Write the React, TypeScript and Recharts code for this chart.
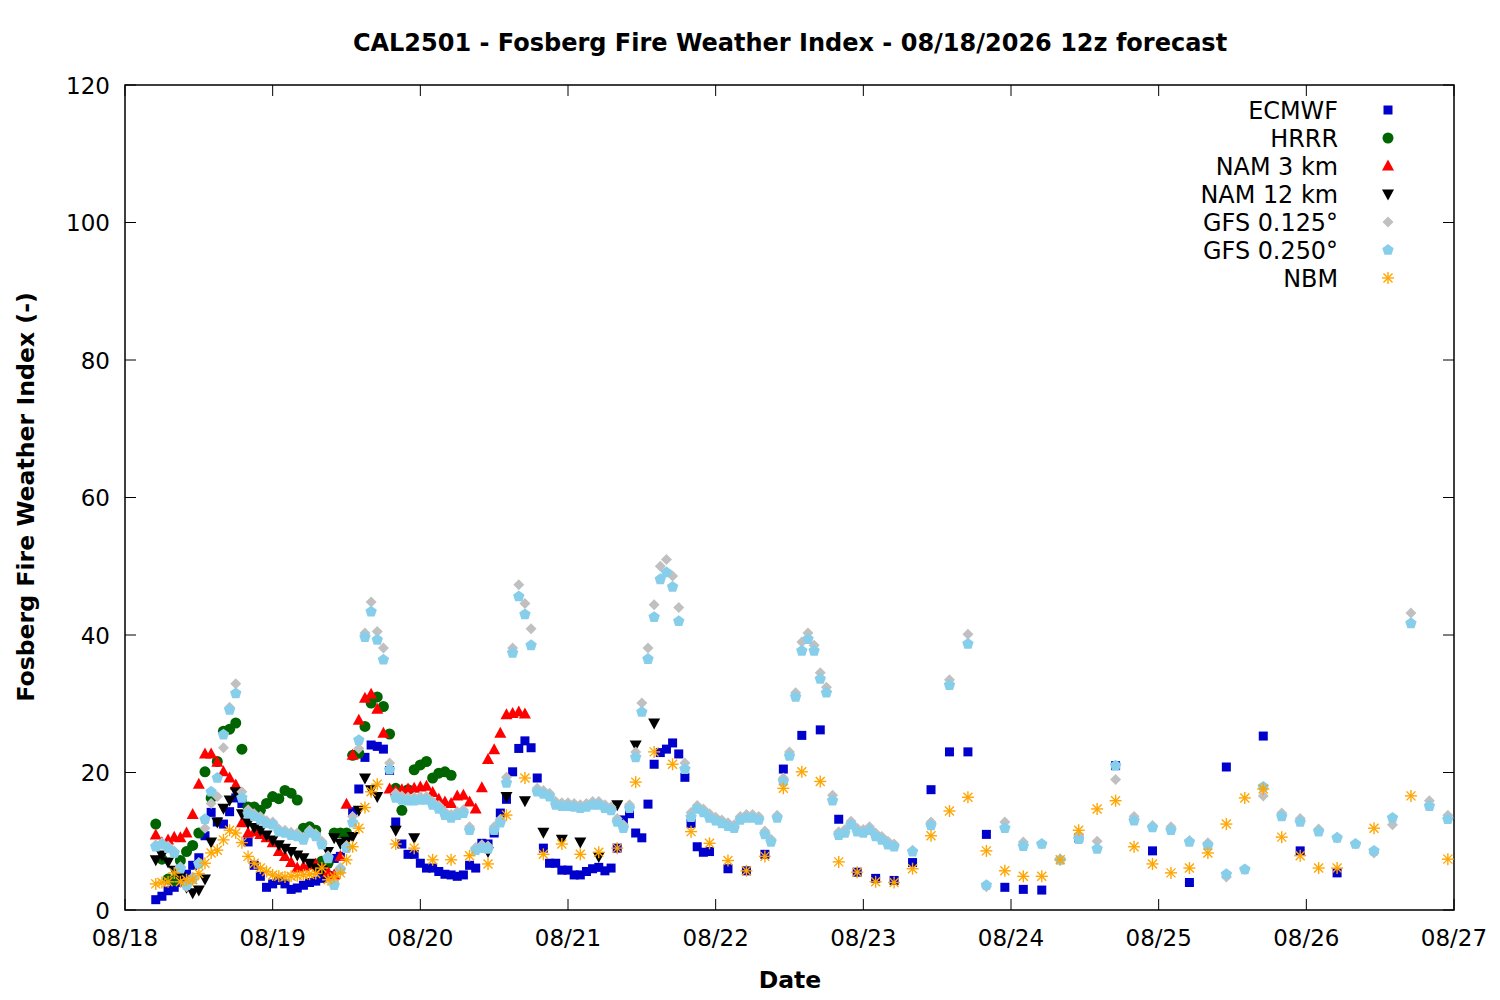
import { ScatterChart, Scatter, XAxis, YAxis, ReferenceArea } from "recharts"

// forecast hours are counted from 08/18 00 local; each run is [first hour, step, values]
type Run = [number, number, number[]]

const DATE_LABELS = ["08/18", "08/19", "08/20", "08/21", "08/22", "08/23", "08/24", "08/25", "08/26", "08/27"]
const Y_TICKS = [0, 20, 40, 60, 80, 100, 120]

const ecmwf: Run[] = [
    [5, 1, [1.5, 2.0, 2.8, 3.3, 4.0, 5.2, 6.5, 7.6, 10.8, 14.2, 12.8, 12.5, 14.3, 16.3, 15.5, 9.9, 6.5, 4.9, 3.3, 3.8,
        4.3, 3.8, 3.0, 3.2, 3.6, 4.0, 4.2, 4.6, 5.0, 7.5, 7.8, 11.0, 14.3, 17.6, 22.2, 24.0, 23.8, 23.4, 20.3, 12.8,
        9.6, 8.1, 8.1, 6.8, 6.1, 6.1, 5.6, 5.2, 5.1, 4.9, 5.1, 6.5, 6.1, 9.7, 9.6, 11.2, 14.1, 16.1, 20.1, 23.5,
        24.6, 23.6, 19.2, 9.0, 6.8, 6.8, 5.8, 5.8, 5.1, 5.1, 5.6, 6.0, 6.2, 5.7, 6.1, 9.0, 13.1, 14.0, 11.2, 10.5,
        15.4, 21.2, 22.9, 23.4, 24.3, 22.7, 19.3, 12.6, 9.2, 8.4, 8.5]],
    [98, 3, [6.0, 5.7, 8.1, 20.5, 25.4, 26.2, 13.2, 5.5, 4.6, 4.3, 6.9, 17.5, 23.0, 23.0, 11.0, 3.3, 3.0, 2.9]],
    [155, 6, [10.5, 21.0, 8.6, 4.0, 20.8, 25.3, 8.6, 5.4]],
]

const hrrr: Run[] = [
    [5, 1, [12.5, 7.4, 4.5, 4.3, 7.2, 8.5, 9.4, 11.2, 20.1, 16.3, 21.6, 26.0, 26.3, 27.2, 23.4, 15.0, 15.0, 14.5, 15.5, 16.5,
        16.2, 17.4, 17.0, 16.0, 11.9, 12.1, 11.6, 7.1, 6.8, 11.2, 11.2, 11.2, 22.5, 22.8, 26.7, 30.1, 31.0, 29.6, 25.6, 17.7,
        14.5, 17.5, 20.4, 21.1, 21.6, 19.2, 19.9, 20.1, 19.6]],
]

const nam3: Run[] = [
    [5, 1, [10.9, 9.8, 10.2, 10.6, 10.5, 11.2, 13.9, 18.3, 22.7, 22.7, 21.5, 20.1, 19.2, 18.2, 12.7, 11.2, 11.4, 11.0, 10.5, 9.8,
        8.5, 7.8, 6.9, 6.1, 6.3, 6.5, 6.7, 6.0, 5.5, 5.1, 7.8, 15.4, 22.5, 27.6, 30.8, 31.4, 29.2, 25.7, 17.6, 17.3,
        17.5, 17.6, 17.7, 17.9, 18.0, 17.1, 16.1, 15.7, 15.5, 16.6, 16.7, 15.7, 14.7, 17.8, 21.9, 23.3, 25.7, 28.4, 28.6, 28.8,
        28.5]],
]

const nam12: Run[] = [
    [5, 1, [7.3, 8.0, 7.0, 5.8, 4.8, 3.3, 2.5, 2.9, 4.5, 9.9, 12.8, 14.8, 16.0, 17.2, 14.0, 12.7, 12.0, 11.6, 10.9, 10.2,
        9.5, 9.0, 8.5, 8.0, 7.6, 6.8, 6.1, 5.8, 8.5, 10.5, 9.7, 10.0, 10.7, 14.5, 19.2, 17.5, 16.5]],
    [44, 3, [11.6, 10.5]],
    [59, 3, [8.5, 16.5, 15.9, 11.3, 10.3, 9.9, 7.8, 15.3, 24.0, 27.2]],
]

const gfs0125: Run[] = [
    [5, 1, [9.5, 9.8, 9.3, 8.6, 6.3, 3.4, 4.8, 6.9, 11.9, 15.5,
        16.5, 23.6, 29.5, 32.9, 17.2, 14.6, 14.0, 13.6, 13.0, 12.8,
        11.8, 11.6, 11.3, 11.2, 10.6, 11.6, 11.1, 10.0, 7.9, 3.9,
        6.2, 9.4, 13.6, 23.5, 40.3, 44.8, 40.5, 38.1, 21.4, 17.0,
        16.6, 16.4, 16.4, 16.5, 16.5, 15.8, 15.2, 14.3, 13.9, 14.3,
        14.6, 12.1, 9.1, 9.5, 9.3, 12.1, 13.2, 19.3, 38.1, 47.3,
        44.6, 40.9, 17.7, 17.4, 17.0, 15.8, 15.6, 15.6, 15.5, 15.3,
        15.5, 15.8, 15.8, 15.3, 15.0, 13.3, 12.4, 15.3, 23.0, 30.1,
        38.1, 44.4, 50.0, 51.0, 48.6, 44.0, 21.4, 14.2, 15.2, 14.7,
        14.0, 13.5, 13.1, 12.7, 12.4, 13.6, 13.9, 13.9, 13.6, 11.5,
        10.3, 13.8, 19.2, 23.0, 31.6, 39.0, 40.3, 38.5, 34.5, 32.4,
        16.7, 11.4, 11.7, 12.9, 11.9, 11.7, 12.1, 11.2, 10.7, 10.0,
        9.6]],
    [128, 3, [8.7, 12.8, 33.5, 40.1, 3.4, 12.8, 9.9, 9.6, 7.3, 10.9, 10.0, 19.0, 13.6, 12.3, 12.1,
        10.1, 9.8, 4.8, 5.9, 16.6, 14.1, 13.3, 11.8, 10.5, 9.6, 8.3, 12.4, 43.2, 15.9, 13.8]],
]

const gfs0250: Run[] = [
    [5, 1, [9.2, 9.5, 9.0, 8.3, 6.0, 3.6, 4.5, 6.7, 13.2, 17.2,
        19.2, 25.5, 29.1, 31.5, 16.3, 14.0, 13.6, 13.1, 12.6, 12.4,
        11.4, 11.2, 10.9, 10.7, 10.2, 11.2, 10.7, 9.5, 7.5, 3.6,
        5.8, 9.0, 12.7, 24.7, 39.7, 43.4, 39.3, 36.4, 20.4, 16.3,
        16.0, 15.9, 15.9, 16.0, 16.0, 15.3, 14.7, 13.8, 13.4, 13.8,
        14.1, 11.6, 8.7, 9.0, 8.9, 11.6, 12.7, 18.5, 37.4, 45.6,
        43.0, 38.5, 17.2, 16.9, 16.5, 15.3, 15.1, 15.1, 15.0, 14.8,
        15.0, 15.3, 15.3, 14.8, 14.5, 12.8, 11.9, 14.8, 22.2, 28.8,
        36.5, 42.6, 48.1, 49.1, 47.0, 42.0, 20.5, 13.5, 14.7, 14.2,
        13.4, 13.0, 12.6, 12.2, 11.9, 13.1, 13.4, 13.4, 13.1, 11.0,
        9.9, 13.4, 18.7, 22.4, 31.0, 37.7, 39.4, 37.7, 33.6, 31.6,
        15.9, 10.9, 11.2, 12.4, 11.4, 11.2, 11.6, 10.7, 10.2, 9.5,
        9.2]],
    [128, 3, [8.5, 12.3, 32.7, 38.7, 3.6, 11.9, 9.3, 9.6, 7.3, 10.3, 8.9, 21.0, 13.0, 12.0, 11.6,
        9.9, 9.4, 5.2, 5.9, 17.9, 13.6, 12.8, 11.4, 10.5, 9.6, 8.6, 13.4, 41.7, 15.1, 13.2]],
]

const nbm: Run[] = [
    [5, 1, [3.8, 4.0, 4.1, 5.4, 4.1, 4.4, 4.4, 5.3, 6.8, 8.3, 8.7, 10.2, 11.6, 11.2, 9.8, 7.8, 6.8, 6.1, 5.6, 5.1,
        4.9, 4.8, 4.9, 5.0, 5.1, 5.2, 5.3, 6.1, 4.4, 4.8, 5.4, 7.3, 9.2, 11.9, 14.9, 17.2, 18.3]],
    [44, 3, [9.6, 9.0, 7.3, 7.3, 7.9, 6.7, 13.8, 19.2, 8.1, 9.6,
        8.1, 8.4, 9.0, 18.6, 23.0, 21.2, 11.4, 9.7, 7.2, 5.7,
        7.8, 17.7, 20.1, 18.7, 7.0, 5.5, 4.1, 4.0, 6.0, 10.8,
        14.4, 16.4, 8.6, 5.7, 4.9, 4.9, 7.3, 11.6, 14.7, 15.9,
        9.2, 6.7, 5.4, 6.1, 8.3, 12.5, 16.3, 17.6, 10.6, 7.9,
        6.1, 6.1]],
    [203, 6, [11.9, 16.6, 7.4]],
]

const toPoints = (runs: Run[]) =>
    runs.flatMap(([start, step, vals]) => vals.map((v, i) => ({ h: start + i * step, v })))

const FONT = "DejaVu Sans"
const PLOT_LEFT = 125
const PLOT_RIGHT = 1454
const PLOT_TOP = 85
const PLOT_BOTTOM = 910
const TICK_LEN = 11

type MarkProps = { cx?: number; cy?: number }

const Square = ({ cx = 0, cy = 0 }: MarkProps) => <rect x={cx - 4.5} y={cy - 4.5} width={9} height={9} fill="#0000cc" />
const Dot = ({ cx = 0, cy = 0 }: MarkProps) => <circle cx={cx} cy={cy} r={5.5} fill="#006400" />
const TriUp = ({ cx = 0, cy = 0 }: MarkProps) => (
    <polygon points={`${cx},${cy - 6.5} ${cx + 6},${cy + 4.5} ${cx - 6},${cy + 4.5}`} fill="#ff0000" />
)
const TriDown = ({ cx = 0, cy = 0 }: MarkProps) => (
    <polygon points={`${cx},${cy + 6.5} ${cx + 6},${cy - 4.5} ${cx - 6},${cy - 4.5}`} fill="#000000" />
)
const Diamond = ({ cx = 0, cy = 0 }: MarkProps) => (
    <polygon points={`${cx},${cy - 5.5} ${cx + 5.5},${cy} ${cx},${cy + 5.5} ${cx - 5.5},${cy}`} fill="#c0c0c0" />
)
const Pentagon = ({ cx = 0, cy = 0 }: MarkProps) => {
    const pts = [0, 1, 2, 3, 4]
        .map((k) => {
            const a = ((-90 + 72 * k) * Math.PI) / 180
            return `${cx + 6 * Math.cos(a)},${cy + 6 * Math.sin(a)}`
        })
        .join(" ")
    return <polygon points={pts} fill="#87ceeb" />
}
const Star = ({ cx = 0, cy = 0 }: MarkProps) => (
    <g stroke="#ffa500" strokeWidth={1.4}>
        <line x1={cx - 6} y1={cy} x2={cx + 6} y2={cy} />
        <line x1={cx} y1={cy - 6} x2={cx} y2={cy + 6} />
        <line x1={cx - 4.5} y1={cy - 4.5} x2={cx + 4.5} y2={cy + 4.5} />
        <line x1={cx - 4.5} y1={cy + 4.5} x2={cx + 4.5} y2={cy - 4.5} />
    </g>
)

const SERIES = [
    { name: "ECMWF", runs: ecmwf, Mark: Square },
    { name: "HRRR", runs: hrrr, Mark: Dot },
    { name: "NAM 3 km", runs: nam3, Mark: TriUp },
    { name: "NAM 12 km", runs: nam12, Mark: TriDown },
    { name: "GFS 0.125°", runs: gfs0125, Mark: Diamond },
    { name: "GFS 0.250°", runs: gfs0250, Mark: Pentagon },
    { name: "NBM", runs: nbm, Mark: Star },
]

const XTick = ({ x, payload }: any) => (
    <g>
        <line x1={x} y1={PLOT_BOTTOM} x2={x} y2={PLOT_BOTTOM - TICK_LEN} stroke="#000" />
        <line x1={x} y1={PLOT_TOP} x2={x} y2={PLOT_TOP + TICK_LEN} stroke="#000" />
        <text x={x} y={946} textAnchor="middle" fontFamily={FONT} fontSize={23} fill="#000">
            {DATE_LABELS[Math.round(payload.value / 24)]}
        </text>
    </g>
)

const YTick = ({ y, payload }: any) => (
    <g>
        <line x1={PLOT_LEFT} y1={y} x2={PLOT_LEFT + TICK_LEN} y2={y} stroke="#000" />
        <line x1={PLOT_RIGHT} y1={y} x2={PLOT_RIGHT - TICK_LEN} y2={y} stroke="#000" />
        <text x={110} y={y + 8.5} textAnchor="end" fontFamily={FONT} fontSize={23} fill="#000">
            {payload.value}
        </text>
    </g>
)

export default function App() {
    return (
        <div style={{ position: "absolute", left: 0, top: 0, width: 1500, height: 1000, background: "#fff" }}>
            <ScatterChart width={1500} height={1000} margin={{ top: PLOT_TOP, right: 1500 - PLOT_RIGHT, bottom: 0, left: 0 }}>
                <XAxis
                    type="number"
                    dataKey="h"
                    domain={[0, 216]}
                    ticks={DATE_LABELS.map((_, i) => i * 24)}
                    height={1000 - PLOT_BOTTOM}
                    axisLine={false}
                    tickLine={false}
                    tick={<XTick />}
                    interval={0}
                />
                <YAxis
                    type="number"
                    dataKey="v"
                    domain={[0, 120]}
                    ticks={Y_TICKS}
                    width={PLOT_LEFT}
                    axisLine={false}
                    tickLine={false}
                    tick={<YTick />}
                    interval={0}
                />
                <ReferenceArea x1={0} x2={216} y1={0} y2={120} fill="none" stroke="#000" strokeWidth={1.5} />
                {SERIES.map(({ name, runs, Mark }) => (
                    <Scatter
                        key={name}
                        name={name}
                        data={toPoints(runs)}
                        shape={(p: any) => <Mark cx={p.cx} cy={p.cy} />}
                        isAnimationActive={false}
                    />
                ))}
            </ScatterChart>
            <svg width={1500} height={1000} style={{ position: "absolute", left: 0, top: 0, pointerEvents: "none" }}>
                <text x={790} y={51} textAnchor="middle" fontFamily={FONT} fontSize={24} fontWeight="bold">
                    CAL2501 - Fosberg Fire Weather Index - 08/18/2026 12z forecast
                </text>
                <text x={790} y={988} textAnchor="middle" fontFamily={FONT} fontSize={23.5} fontWeight="bold">
                    Date
                </text>
                <text
                    transform="translate(34 497) rotate(-90)"
                    textAnchor="middle"
                    fontFamily={FONT}
                    fontSize={23.6}
                    fontWeight="bold"
                >
                    Fosberg Fire Weather Index (-)
                </text>
                {SERIES.map(({ name, Mark }, i) => (
                    <g key={name}>
                        <text x={1338} y={119 + i * 28} textAnchor="end" fontFamily={FONT} fontSize={23.9}>
                            {name}
                        </text>
                        <Mark cx={1388} cy={110 + i * 28} />
                    </g>
                ))}
            </svg>
        </div>
    )
}
